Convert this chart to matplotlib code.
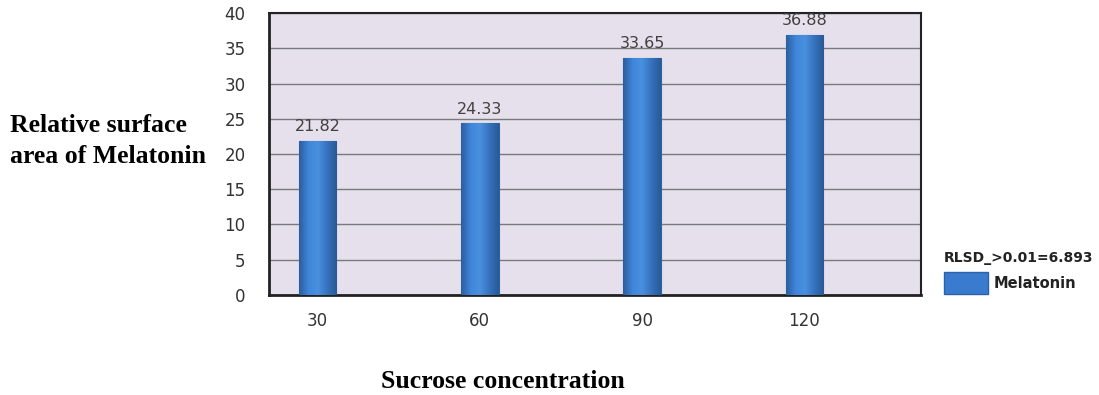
import numpy as np
import matplotlib.pyplot as plt
from matplotlib.patches import Patch
from matplotlib.colors import LinearSegmentedColormap

# data
concentrations = ["30", "60", "90", "120"]
melatonin = [21.82, 24.33, 33.65, 36.88]
yticks = [0, 5, 10, 15, 20, 25, 30, 35, 40]

fig = plt.figure(figsize=(10.99, 3.95), dpi=100)
ax = fig.add_axes([0.2448, 0.2532, 0.5932, 0.7138])

x = np.arange(len(concentrations))
bars = ax.bar(x, melatonin, width=0.23, color="#3A7BCF", edgecolor="#2B62A8",
              linewidth=0.8, zorder=3)

# cylinder-like shading on each bar
shade = LinearSegmentedColormap.from_list("shade", ["#2C5E9E", "#3F86DA", "#4A90E0", "#3672BE", "#285A98"])
grad = np.linspace(0, 1, 64).reshape(1, -1)
for b in bars:
    im = ax.imshow(grad, cmap=shade, aspect="auto", zorder=4,
                   extent=[b.get_x(), b.get_x() + b.get_width(), 0, b.get_height()])
    im.set_clip_path(b)
ax.set_aspect("auto")

for xi, v in zip(x, melatonin):
    ax.annotate(f"{v:.2f}", (xi, v), xytext=(0, 5), textcoords="offset points",
                ha="center", va="bottom", fontsize=11.5, color="#404040",
                annotation_clip=False, zorder=5)

ax.set_facecolor("#E6E0EC")
ax.set_ylim(0, 40)
ax.set_xlim(-0.30, 3.72)
ax.set_yticks(yticks)
ax.set_xticks(x)
ax.set_xticklabels(concentrations)
ax.tick_params(axis="both", length=0, labelsize=12, labelcolor="#333333")
ax.tick_params(axis="y", pad=17)
ax.tick_params(axis="x", pad=12)
ax.yaxis.grid(True, color="#7A7A7A", linewidth=1.0, zorder=0)
ax.set_axisbelow(True)
for side in ["left", "bottom", "top", "right"]:
    ax.spines[side].set_color("#222222")
    ax.spines[side].set_linewidth(1.5)
ax.spines["left"].set_linewidth(2)
ax.spines["bottom"].set_linewidth(2)

fig.text(0.009, 0.643, "Relative surface\narea of Melatonin", ha="left", va="center",
         fontsize=18.5, fontweight="bold", family="Liberation Serif",
         linespacing=1.4)
fig.text(0.458, 0.033, "Sucrose concentration", ha="center", va="center",
         fontsize=18.5, fontweight="bold", family="Liberation Serif")

leg = fig.legend(handles=[Patch(facecolor="#3A7BCF", edgecolor="#2B62A8", label="Melatonin")],
                 title="RLSD_>0.01=6.893", loc="upper left",
                 bbox_to_anchor=(0.859, 0.365), frameon=False, fontsize=10.5,
                 title_fontsize=10, handlelength=3.0, handleheight=1.9,
                 handletextpad=0.4, borderaxespad=0, borderpad=0)
leg.get_title().set_fontweight("bold")
leg.get_title().set_color("#222222")
leg._legend_box.align = "left"
for t in leg.get_texts():
    t.set_fontweight("bold")
    t.set_color("#222222")

fig.savefig("out.png", dpi=100)
